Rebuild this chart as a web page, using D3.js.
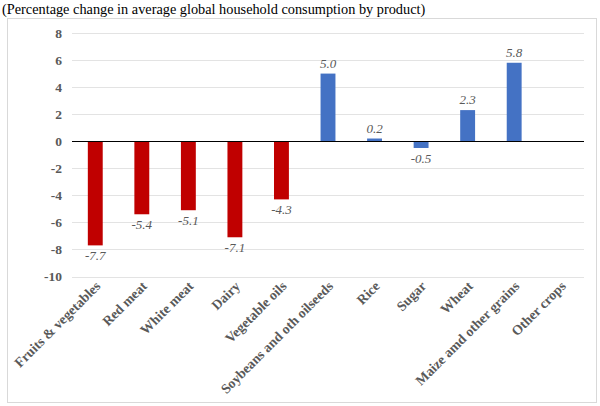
<!DOCTYPE html>
<html><head><meta charset="utf-8">
<script src="https://cdn.jsdelivr.net/npm/d3@7"></script>
<style>body{margin:0;background:#fff}svg{display:block}svg text{font-family:"Liberation Serif","Times New Roman",serif}</style>
</head><body>
<svg id="c" width="600" height="406"></svg>
<script>
const categories = ["Fruits & vegetables","Red meat","White meat","Dairy","Vegetable oils","Soybeans and oth oilseeds","Rice","Sugar","Wheat","Maize amd other grains","Other crops"];
const values = [-7.7,-5.4,-5.1,-7.1,-4.3,5.0,0.2,-0.5,2.3,5.8,0];
const groups = ["red","red","red","red","red","blue","blue","blue","blue","blue","blue"];
const labels = ["-7.7","-5.4","-5.1","-7.1","-4.3","5.0","0.2","-0.5","2.3","5.8",""];
const yTicks = [8,6,4,2,0,-2,-4,-6,-8,-10];
const title = "(Percentage change in average global household consumption by product)";

const colors = {red:"#c00000", blue:"#4472c4"};
const svg = d3.select("#c");
const serif = '"Liberation Serif","Times New Roman",serif';

svg.append("rect").attr("x",7.5).attr("y",18.5).attr("width",589).attr("height",384)
  .attr("fill","none").attr("stroke","#d9d9d9");

svg.append("text").attr("x",2).attr("y",14).style("font-family",serif).attr("font-size",14.3)
  .attr("fill","#000").text(title);

const x = d3.scaleBand().domain(categories).range([72,584]).paddingInner(0.68).paddingOuter(0.34);
const y = d3.scaleLinear().domain([-10,8]).range([276.5,33]);

// gridlines
svg.append("g").selectAll("line").data(yTicks.filter(t=>t!==0)).join("line")
  .attr("x1",72).attr("x2",584).attr("y1",d=>Math.round(y(d))+0.5).attr("y2",d=>Math.round(y(d))+0.5)
  .attr("stroke","#e3e3e3").attr("stroke-width",1);

// y axis labels
const ya = svg.append("g").attr("transform","translate(62,0)")
  .call(d3.axisLeft(y).tickValues(yTicks).tickSize(0).tickPadding(0).tickFormat(d=>String(d)));
ya.select(".domain").remove();
ya.attr("font-family",null);
ya.selectAll("text").style("font-family",serif).attr("font-size",13.5).attr("font-weight","bold").attr("fill","#595959");

// bars
svg.append("g").selectAll("rect").data(values).join("rect")
  .attr("x",(d,i)=>x(categories[i])).attr("width",x.bandwidth())
  .attr("y",d=>y(Math.max(0,d))).attr("height",d=>Math.abs(y(d)-y(0)))
  .attr("fill",(d,i)=>colors[groups[i]]);

// zero line
svg.append("line").attr("x1",72).attr("x2",584).attr("y1",Math.round(y(0))+0.5).attr("y2",Math.round(y(0))+0.5)
  .attr("stroke","#000").attr("stroke-width",1.2);

// value labels
svg.append("g").selectAll("text").data(values).join("text")
  .attr("x",(d,i)=>x(categories[i])+x.bandwidth()/2)
  .attr("y",d=>d<0? y(d)+15 : y(d)-6)
  .attr("text-anchor","middle").style("font-family",serif).attr("font-style","italic")
  .attr("font-size",13).attr("fill","#595959").text((d,i)=>labels[i]);

// category labels
svg.append("g").selectAll("text").data(categories).join("text")
  .attr("transform",d=>`translate(${x(d)+x.bandwidth()/2+6},${287}) rotate(-45)`)
  .attr("text-anchor","end").style("font-family",serif).attr("font-weight","bold")
  .attr("font-size",13.8).attr("fill","#595959").text(d=>d);
</script>
</body></html>
